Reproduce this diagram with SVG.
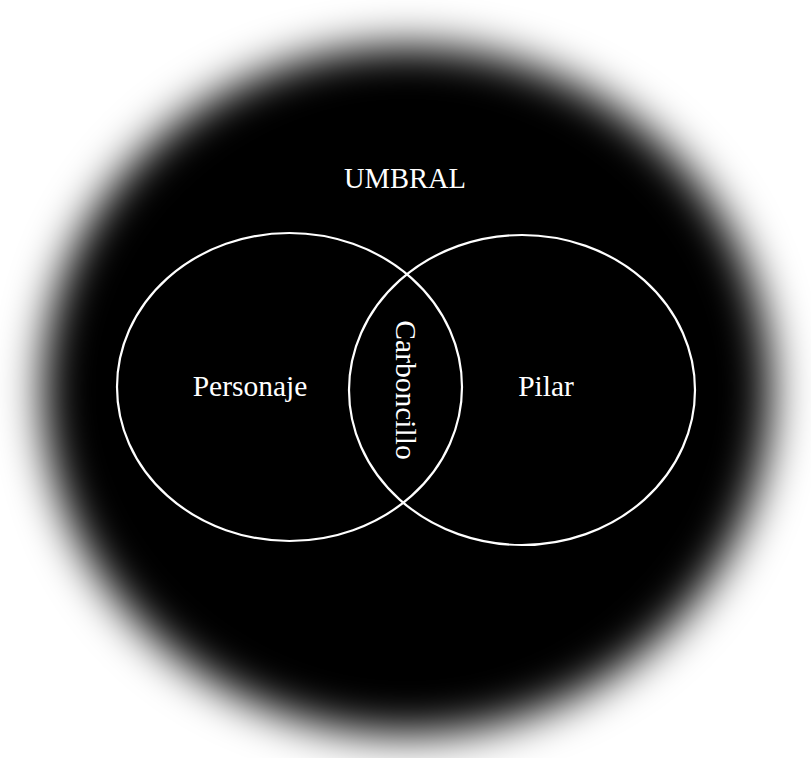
<svg xmlns="http://www.w3.org/2000/svg" width="811" height="758" viewBox="0 0 811 758">
<defs>
<filter id="blur" x="-20%" y="-20%" width="140%" height="140%"><feGaussianBlur stdDeviation="22"/></filter>
<style>
.lbl{font-family:"Liberation Serif","Times New Roman",serif;font-size:29.5px;fill:#fff;text-anchor:middle;dominant-baseline:central}
.set{fill:none;stroke:#fff;stroke-width:2.2}
</style>
</defs>
<rect width="811" height="758" fill="#fff"/>
<g id="umbral">
<ellipse cx="407" cy="390" rx="364" ry="344" fill="#000" filter="url(#blur)"/>
<text class="lbl" x="405" y="178" style="font-size:28.5px">UMBRAL</text>
</g>
<g id="personaje">
<ellipse class="set" cx="289.5" cy="387" rx="172.5" ry="154"/>
<text class="lbl" x="250" y="386">Personaje</text>
</g>
<g id="pilar">
<ellipse class="set" cx="522" cy="390" rx="173" ry="155"/>
<text class="lbl" x="546" y="386">Pilar</text>
</g>
<g id="carboncillo">
<text class="lbl" x="0" y="0" transform="translate(406 390) rotate(90)">Carboncillo</text>
</g>
<g id="connectors"></g>
</svg>
